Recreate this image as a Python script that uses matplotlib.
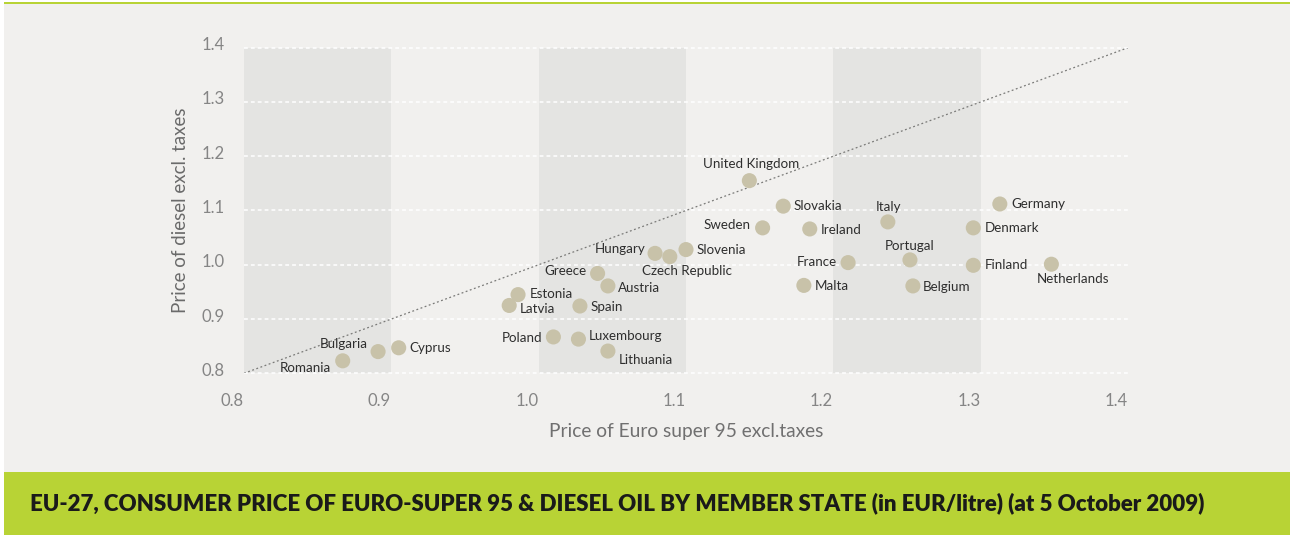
import matplotlib.pyplot as plt
import matplotlib.transforms as mtransforms
from matplotlib.patches import Rectangle

# EU-27 fuel prices excl. taxes, EUR/litre (5 October 2009)
countries = ["Romania", "Bulgaria", "Cyprus", "Latvia", "Estonia", "Greece",
             "Austria", "Spain", "Poland", "Luxembourg", "Lithuania", "Hungary",
             "Czech Republic", "Slovenia", "United Kingdom", "Slovakia", "Sweden",
             "Ireland", "Italy", "Germany", "Denmark", "Portugal", "France",
             "Finland", "Netherlands", "Malta", "Belgium"]
euro95 = [0.867, 0.891, 0.905, 0.980, 0.986, 1.040, 1.047, 1.028, 1.010, 1.027,
          1.047, 1.079, 1.089, 1.100, 1.143, 1.166, 1.152, 1.184, 1.237, 1.313,
          1.295, 1.252, 1.210, 1.295, 1.348, 1.180, 1.254]
diesel = [0.823, 0.840, 0.847, 0.925, 0.945, 0.984, 0.961, 0.924, 0.867, 0.863,
          0.841, 1.021, 1.015, 1.028, 1.155, 1.108, 1.068, 1.066, 1.079, 1.112,
          1.068, 1.009, 1.004, 0.999, 1.001, 0.962, 0.961]

ticks = [0.8, 0.9, 1.0, 1.1, 1.2, 1.3, 1.4]
tick_labels = ["0.8", "0.9", "1.0", "1.1", "1.2", "1.3", "1.4"]
bands = [(0.8, 0.9), (1.0, 1.1), (1.2, 1.3)]

# label placement: (dx px, dy px, ha)
label_pos = {
    "Romania": (-12, -7, "right"), "Bulgaria": (-10, 8, "right"),
    "Cyprus": (11, 0, "left"), "Latvia": (11, -4, "left"),
    "Estonia": (12, 1, "left"), "Greece": (-11, 2, "right"),
    "Austria": (10, -2, "left"), "Spain": (11, -1, "left"),
    "Poland": (-11, -1, "right"), "Luxembourg": (10, 3, "left"),
    "Lithuania": (11, -9, "left"), "Hungary": (-10, 4, "right"),
    "Czech Republic": (-28, -14, "left"), "Slovenia": (11, 0, "left"),
    "United Kingdom": (2, 17, "center"), "Slovakia": (10, 0, "left"),
    "Sweden": (-12, 3, "right"), "Ireland": (11, -1, "left"),
    "Italy": (1, 15, "center"), "Germany": (12, 0, "left"),
    "Denmark": (11, 0, "left"), "Portugal": (0, 14, "center"),
    "France": (-11, 1, "right"), "Finland": (11, 0, "left"),
    "Netherlands": (22, -15, "center"), "Malta": (11, -1, "left"),
    "Belgium": (10, -1, "left"),
}

BG = "#f1f0ee"
BAND = "#e4e4e2"
GREEN = "#b8d335"
DOT = "#c8c2a9"
FONT = ["Lato", "DejaVu Sans"]

W, H = 1290, 535
fig = plt.figure(figsize=(W / 100, H / 100), dpi=100)
fig.patch.set_facecolor(BG)

# frame decorations
fig.add_artist(Rectangle((0, 0), 4 / W, 1, transform=fig.transFigure,
                         facecolor="white", edgecolor="none", zorder=0))
fig.add_artist(Rectangle((0, 1 - 2 / H), 1, 2 / H, transform=fig.transFigure,
                         facecolor="white", edgecolor="none", zorder=0))
fig.add_artist(Rectangle((4 / W, 1 - 4 / H), 1, 2.2 / H, transform=fig.transFigure,
                         facecolor=GREEN, edgecolor="none", zorder=0))
fig.add_artist(Rectangle((4 / W, 0), 1, 63 / H, transform=fig.transFigure,
                         facecolor=GREEN, edgecolor="none", zorder=0))

ax = fig.add_axes([244 / W, 1 - 373.3 / H, 884 / W, 325.6 / H])
ax.set_facecolor(BG)
ax.set_xlim(0.8, 1.4)
ax.set_ylim(0.8, 1.4)
for s in ax.spines.values():
    s.set_visible(False)

for a, b in bands:
    ax.axvspan(a, b, color=BAND, lw=0, zorder=0)

for t in ticks:
    ax.axhline(t, color="white", lw=1.1, ls=(0, (2.5, 2)), zorder=1, clip_on=False)

ax.plot([0.8, 1.4], [0.8, 1.4], color="#7a7a78", lw=0.9, ls=(0, (1.5, 2)), zorder=2)

ax.scatter(euro95, diesel, s=118, color=DOT, edgecolors="none", zorder=3)

for name, x, y in zip(countries, euro95, diesel):
    dx, dy, ha = label_pos[name]
    ax.annotate(name, (x, y), xytext=(dx * 0.72, dy * 0.72), textcoords="offset points",
                ha=ha, va="center", fontsize=9.6, color="#2e2e2e", family=FONT, zorder=4)

ax.set_xticks(ticks, tick_labels)
ax.set_yticks(ticks, tick_labels)
ax.tick_params(length=0, labelsize=12, labelcolor="#858585", pad=14)
for lab in ax.get_xticklabels():
    lab.set_family(FONT)
    lab.set_transform(lab.get_transform() +
                      mtransforms.ScaledTranslation(-0.12, 0, fig.dpi_scale_trans))
for lab in ax.get_yticklabels():
    lab.set_family(FONT)
    lab.set_transform(lab.get_transform() +
                      mtransforms.ScaledTranslation(0, 0.04, fig.dpi_scale_trans))

ax.set_xlabel("Price of Euro super 95 excl.taxes", fontsize=13.8, color="#707070",
              family=FONT, labelpad=10)
ax.set_ylabel("Price of diesel excl. taxes", fontsize=13.5, color="#6a6a6a",
              family=FONT, labelpad=9)

fig.text(30 / W, 1 - 503 / H,
         "EU-27, CONSUMER PRICE OF EURO-SUPER 95 & DIESEL OIL BY MEMBER STATE "
         "(in EUR/litre) (at 5 October 2009)",
         ha="left", va="center", fontsize=16.05, fontweight="heavy", color="#1a1a1a",
         family=FONT)

fig.savefig("out.png", dpi=100, facecolor=fig.get_facecolor())
